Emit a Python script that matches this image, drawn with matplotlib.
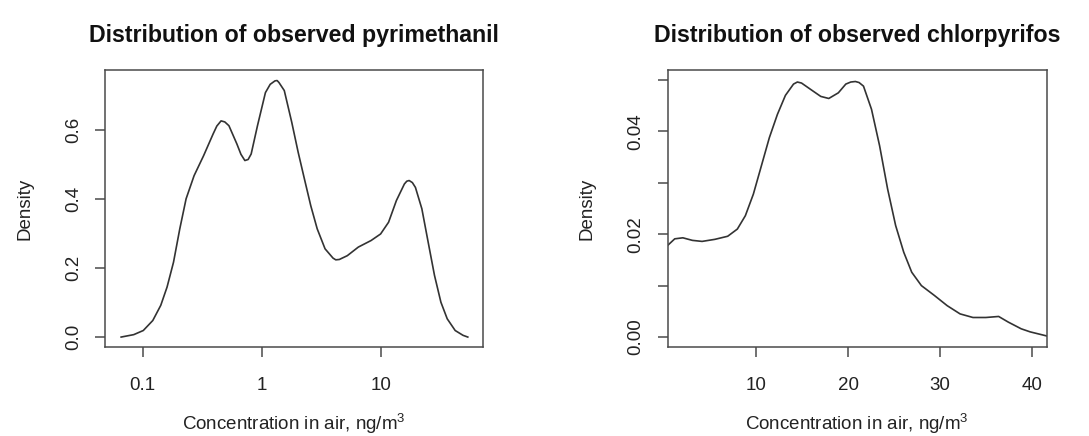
import matplotlib
matplotlib.use("Agg")
from matplotlib import pyplot as plt
from matplotlib.ticker import FixedLocator, NullLocator

# pyrimethanil density curve, x in ng/m3
pyr_conc = [0.0659, 0.0841, 0.1012, 0.1216, 0.1419, 0.1603, 0.1816, 0.2051, 0.2317, 0.2704,
            0.3251, 0.3908, 0.42, 0.4560, 0.49, 0.5309, 0.6194, 0.67, 0.7228, 0.77,
            0.8166, 0.9226, 1.076, 1.18, 1.294, 1.35, 1.40, 1.55, 1.791, 2.028,
            2.291, 2.588, 2.931, 3.412, 3.981, 4.20, 4.498, 5.248, 6.501, 8.318,
            10.0, 11.67, 13.58, 15.85, 16.6, 17.38, 18.5, 19.63, 22.23, 25.12,
            28.38, 32.14, 36.31, 42.36, 49.32, 54.08]
pyr_dens = [0.000, 0.007, 0.019, 0.048, 0.092, 0.145, 0.217, 0.314, 0.401, 0.468,
            0.526, 0.589, 0.612, 0.627, 0.624, 0.613, 0.560, 0.530, 0.512, 0.515,
            0.531, 0.613, 0.709, 0.733, 0.743, 0.744, 0.738, 0.715, 0.623, 0.536,
            0.458, 0.381, 0.314, 0.256, 0.229, 0.224, 0.225, 0.236, 0.261, 0.280,
            0.299, 0.333, 0.396, 0.444, 0.452, 0.454, 0.448, 0.434, 0.372, 0.275,
            0.179, 0.101, 0.053, 0.019, 0.005, 0.000]

# chlorpyrifos density curve
chl_conc = [0.40, 1.18, 2.06, 3.10, 4.15, 5.54, 6.93, 7.98, 8.85, 9.72,
            10.59, 11.46, 12.33, 13.20, 14.08, 14.5, 14.95, 15.99, 17.04, 17.91,
            18.95, 19.76, 20.3, 20.80, 21.2, 21.68, 22.55, 23.43, 24.30, 25.17,
            26.05, 26.92, 27.97, 29.37, 30.77, 32.17, 33.57, 34.97, 36.36, 37.41,
            38.81, 39.79, 41.6]
chl_dens = [0.0178, 0.0191, 0.0193, 0.0188, 0.0186, 0.0190, 0.0196, 0.0210, 0.0236, 0.0278,
            0.0333, 0.0388, 0.0433, 0.0470, 0.0492, 0.0496, 0.0494, 0.0481, 0.0468, 0.0464,
            0.0475, 0.0492, 0.0496, 0.0497, 0.0495, 0.0488, 0.0443, 0.0372, 0.0288, 0.0217,
            0.0165, 0.0126, 0.0100, 0.0081, 0.0061, 0.0045, 0.0038, 0.0038, 0.0040, 0.0029,
            0.0016, 0.0010, 0.0002]

pyr_ticks = [0.1, 1, 10]
pyr_ticklabels = ["0.1", "1", "10"]
pyr_yticks = [0.0, 0.2, 0.4, 0.6]
pyr_yticklabels = ["0.0", "0.2", "0.4", "0.6"]
chl_ticks = [10, 20, 30, 40]
chl_yticks = [0.00, 0.01, 0.02, 0.03, 0.04, 0.05]
chl_yticklabels = ["0.00", "", "0.02", "", "0.04", ""]

plt.rcParams['font.family'] = ['Liberation Sans', 'DejaVu Sans']
plt.rcParams['mathtext.fontset'] = 'custom'
plt.rcParams['mathtext.rm'] = 'Liberation Sans'
plt.rcParams['font.size'] = 13.5

line_col = "#333333"
box_col = "#4a4a4a"
txt_col = "#222222"

fig = plt.figure(figsize=(10.89, 4.36), dpi=100)
ax1 = fig.add_axes([0.0964, 0.204, 0.347, 0.635])
ax2 = fig.add_axes([0.613, 0.204, 0.348, 0.635])

ax1.plot(pyr_conc, pyr_dens, color=line_col, lw=1.2)
ax1.set_xscale("log")
ax1.set_xlim(0.0482, 72.4)
ax1.set_ylim(-0.029, 0.774)
ax1.xaxis.set_major_locator(FixedLocator(pyr_ticks))
ax1.xaxis.set_minor_locator(NullLocator())
ax1.set_xticklabels(pyr_ticklabels)
ax1.set_yticks(pyr_yticks)
ax1.set_yticklabels(pyr_yticklabels)
ax1.set_title("Distribution of observed pyrimethanil", fontweight="bold", fontsize=16.7,
              pad=20, color="#111111")

ax2.plot(chl_conc, chl_dens, color=line_col, lw=1.2)
ax2.set_xlim(0.40, 41.56)
ax2.set_ylim(-0.00195, 0.0519)
ax2.set_xticks(chl_ticks)
ax2.set_yticks(chl_yticks)
ax2.set_yticklabels(chl_yticklabels)
ax2.set_title("Distribution of observed chlorpyrifos", fontweight="bold", fontsize=16.7,
              pad=20, color="#111111")

for ax in (ax1, ax2):
    for s in ax.spines.values():
        s.set_color(box_col)
        s.set_linewidth(1.1)
    ax.tick_params(axis="both", direction="out", length=7.5, width=1.1, color=box_col,
                   labelcolor=txt_col)
    ax.tick_params(axis="x", pad=14)
    ax.tick_params(axis="y", pad=9)
    for lab in ax.get_yticklabels():
        lab.set_rotation(90)
        lab.set_va("center")
    ax.set_ylabel("Density", color=txt_col)
    ax.yaxis.set_label_coords(-0.19, 0.5)

fig.text(0.270, 0.014, "Concentration in air, ng/m$^3$", ha="center", va="baseline", color=txt_col)
fig.text(0.787, 0.014, "Concentration in air, ng/m$^3$", ha="center", va="baseline", color=txt_col)

fig.savefig("out.png", dpi=100)
